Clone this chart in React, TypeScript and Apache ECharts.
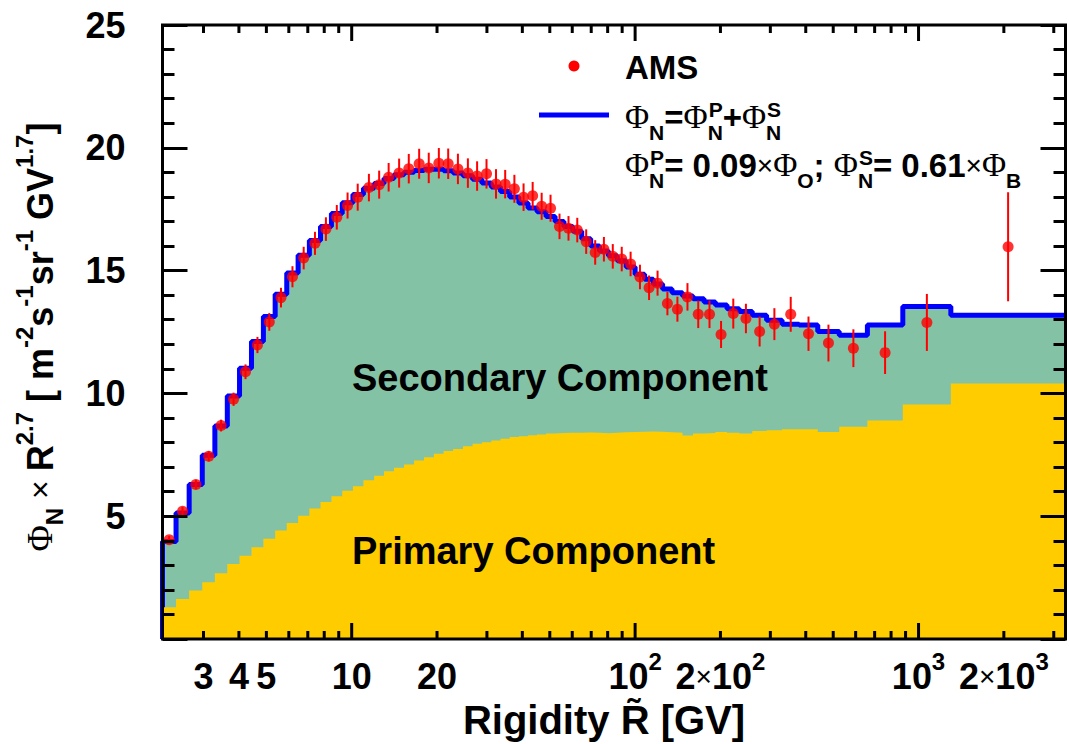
import React, { useEffect, useRef } from 'react';
import * as echarts from 'echarts';

// ---- data ----
const binEdges = [2.15, 2.40, 2.67, 2.97, 3.29, 3.64, 4.02, 4.43, 4.88, 5.37, 5.90, 6.47, 7.09, 7.76, 8.48, 9.26, 10.1, 11.0, 12.0, 13.0, 14.1, 15.3, 16.6, 18.0, 19.5, 21.1, 22.8, 24.7, 26.7, 28.8, 31.1, 33.5, 36.1, 38.9, 41.9, 45.1, 48.5, 52.2, 56.1, 60.3, 64.8, 69.7, 74.9, 80.5, 86.5, 93.0, 100, 108, 116, 125, 135, 147, 160, 175, 192, 211, 233, 259, 291, 330, 379, 441, 525, 660, 880, 1300, 3300];

const amsRigidity = [2.27, 2.53, 2.82, 3.13, 3.46, 3.83, 4.22, 4.65, 5.12, 5.63, 6.18, 6.77, 7.42, 8.11, 8.86, 9.67, 10.5, 11.5, 12.5, 13.5, 14.7, 15.9, 17.3, 18.7, 20.3, 21.9, 23.7, 25.7, 27.7, 29.9, 32.3, 34.8, 37.5, 40.4, 43.5, 46.8, 50.3, 54.1, 58.2, 62.5, 67.2, 72.3, 77.6, 83.4, 89.7, 96.4, 104, 112, 120, 130, 141, 153, 167, 183, 201, 222, 246, 275, 310, 354, 409, 481, 589, 762, 1070, 2070];

const amsFlux = [4.04, 5.2, 6.29, 7.44, 8.69, 9.76, 10.88, 11.97, 12.91, 13.9, 14.75, 15.51, 16.11, 16.69, 17.17, 17.65, 17.99, 18.38, 18.5, 18.8, 18.97, 19.15, 19.35, 19.18, 19.37, 19.35, 19.14, 18.97, 18.85, 18.94, 18.53, 18.52, 18.33, 17.99, 18.05, 17.62, 17.54, 16.8, 16.72, 16.65, 16.18, 15.74, 15.87, 15.58, 15.47, 15.27, 14.74, 14.3, 14.49, 13.66, 13.43, 13.93, 13.22, 13.22, 12.4, 13.25, 13.05, 12.52, 12.82, 13.22, 12.43, 12.05, 11.84, 11.66, 12.89, 15.97];

const amsError = [0.15, 0.17, 0.19, 0.21, 0.24, 0.27, 0.3, 0.33, 0.36, 0.4, 0.43, 0.46, 0.47, 0.48, 0.5, 0.53, 0.55, 0.56, 0.57, 0.58, 0.59, 0.6, 0.61, 0.62, 0.62, 0.62, 0.62, 0.6, 0.6, 0.6, 0.6, 0.58, 0.57, 0.56, 0.56, 0.55, 0.55, 0.52, 0.5, 0.5, 0.5, 0.5, 0.5, 0.5, 0.5, 0.5, 0.5, 0.5, 0.51, 0.48, 0.51, 0.56, 0.56, 0.56, 0.55, 0.61, 0.6, 0.61, 0.65, 0.71, 0.7, 0.75, 0.77, 0.87, 1.16, 2.22];

const totalModel = [3.97, 5.13, 6.29, 7.48, 8.67, 9.89, 11.02, 12.11, 13.13, 14.04, 14.9, 15.62, 16.23, 16.8, 17.32, 17.76, 18.1, 18.35, 18.55, 18.75, 18.9, 19.0, 19.08, 19.13, 19.13, 19.07, 18.97, 18.86, 18.72, 18.57, 18.4, 18.22, 18.0, 17.75, 17.55, 17.4, 17.2, 17.0, 16.8, 16.6, 16.3, 16.0, 15.8, 15.6, 15.4, 15.15, 14.85, 14.65, 14.45, 14.25, 14.1, 13.97, 13.85, 13.72, 13.6, 13.45, 13.33, 13.18, 12.98, 12.82, 12.79, 12.52, 12.37, 12.79, 13.54, 13.18];

const primaryModel = [1.29, 1.63, 1.97, 2.31, 2.68, 3.05, 3.39, 3.74, 4.08, 4.42, 4.72, 5.02, 5.31, 5.58, 5.81, 6.04, 6.22, 6.46, 6.65, 6.83, 6.97, 7.1, 7.27, 7.4, 7.54, 7.65, 7.74, 7.85, 7.95, 8.01, 8.08, 8.15, 8.22, 8.26, 8.3, 8.33, 8.37, 8.39, 8.4, 8.4, 8.41, 8.4, 8.38, 8.4, 8.42, 8.43, 8.44, 8.45, 8.44, 8.42, 8.4, 8.29, 8.37, 8.39, 8.43, 8.4, 8.37, 8.47, 8.5, 8.54, 8.54, 8.43, 8.64, 8.9, 9.55, 10.4];

const xMajorTickValues = [10, 100, 1000];
const xMinorTickValues = [3, 4, 5, 6, 7, 8, 9, 20, 30, 40, 50, 60, 70, 80, 90, 200, 300, 400, 500, 600, 700, 800, 900, 2000, 3000];
const xLabelValues = [3, 4, 5, 10, 20, 100, 200, 1000, 2000];
const xLabelTexts = ['3', '4', '5', '10', '20', '10^2', '2×10^2', '10^3', '2×10^3'];

const X_MIN = 2.15;
const X_MAX = 3300;
const Y_MIN = 0;
const Y_MAX = 25;

// ---- styling ----
const FONT = '"Liberation Sans", Arial, Helvetica, sans-serif';
const SERIF = '"Liberation Serif", "DejaVu Serif", serif';
const GRID = { left: 162.5, top: 25, width: 903, height: 614 };

function stepData(vals: number[]) {
  const d: number[][] = [[binEdges[0], 0]];
  vals.forEach((v, i) => d.push([binEdges[i], v]));
  d.push([binEdges[binEdges.length - 1], vals[vals.length - 1]]);
  return d;
}

function labelToRich(label: string) {
  const [base, exp] = label.split('^');
  let s = '';
  const parts = base.split('×');
  if (parts.length === 2) s += `{b|${parts[0]}}{x|×}{b|${parts[1]}}`;
  else s += `{b|${base}}`;
  if (exp) s += `{sup|${exp}}`;
  return s;
}

const xLabelRich = {
  b: { fontSize: 36, fontWeight: 'bold', fontFamily: FONT, lineHeight: 54, fill: '#000' },
  x: { fontSize: 28, fontWeight: 'normal', fontFamily: FONT, lineHeight: 54, fill: '#000' },
  sup: { fontSize: 24, fontWeight: 'bold', fontFamily: FONT, lineHeight: 54, height: 24, verticalAlign: 'top', fill: '#000' },
};

const yTitleRich = {
  b: { fontSize: 36, fontWeight: 'bold', fontFamily: FONT, lineHeight: 56 },
  phi: { fontSize: 36, fontWeight: 'normal', fontFamily: SERIF, lineHeight: 56 },
  x: { fontSize: 32, fontWeight: 'normal', fontFamily: FONT, lineHeight: 56 },
  sup: { fontSize: 24, fontWeight: 'bold', fontFamily: FONT, lineHeight: 56, height: 24, verticalAlign: 'top' },
  sub: { fontSize: 24, fontWeight: 'bold', fontFamily: FONT, lineHeight: 56, height: 27, verticalAlign: 'bottom' },
};

const legRich = {
  b: { fontSize: 33, fontWeight: 'bold', fontFamily: FONT, lineHeight: 50 },
  phi: { fontSize: 33, fontWeight: 'normal', fontFamily: SERIF, lineHeight: 50 },
  x: { fontSize: 28, fontWeight: 'normal', fontFamily: FONT, lineHeight: 50 },
  sup: { fontSize: 21, fontWeight: 'bold', fontFamily: FONT, lineHeight: 50, height: 34, verticalAlign: 'top' },
  sub: { fontSize: 21, fontWeight: 'bold', fontFamily: FONT, lineHeight: 50, height: 20, verticalAlign: 'bottom' },
  subs: { fontSize: 21, fontWeight: 'bold', fontFamily: FONT, lineHeight: 50, height: 20, verticalAlign: 'bottom', width: 1 },
};

function richText(x: number, y: number, text: string, rich: any, extra: any = {}) {
  return {
    type: 'text',
    x,
    y,
    z: 100,
    silent: true,
    ...extra,
    style: {
      text,
      rich,
      fill: '#000',
      fontSize: 33,
      fontWeight: 'bold',
      fontFamily: FONT,
      align: extra.align || 'left',
      textAlign: extra.align || 'left',
      verticalAlign: 'middle',
      textVerticalAlign: 'middle',
    },
  };
}

function plainText(x: number, y: number, text: string, size: number, align = 'left') {
  return {
    type: 'text',
    x,
    y,
    z: 100,
    silent: true,
    style: {
      text,
      fill: '#000',
      fontSize: size,
      fontWeight: 'bold',
      fontFamily: FONT,
      align,
      textAlign: align,
      verticalAlign: 'middle',
      textVerticalAlign: 'middle',
    },
  };
}

export default function App() {
  const ref = useRef<HTMLDivElement>(null);

  useEffect(() => {
    if (!ref.current) return;
    const chart = echarts.init(ref.current, null, { renderer: 'svg' });

    const yAxisCommon = {
      type: 'value',
      min: Y_MIN,
      max: Y_MAX,
      interval: 5,
      z: 10,
      axisLine: { show: false },
      splitLine: { show: false },
      axisTick: { show: true, inside: true, length: 25, lineStyle: { color: '#000', width: 3 } },
      minorTick: { show: true, splitNumber: 5, length: 12, lineStyle: { color: '#000', width: 3 } },
    };

    const option: any = {
      animation: false,
      backgroundColor: '#fff',
      grid: { ...GRID, outerBoundsMode: 'none', containLabel: false },
      xAxis: {
        type: 'log',
        logBase: 10,
        min: X_MIN,
        max: X_MAX,
        axisLine: { show: false },
        axisTick: { show: false },
        axisLabel: { show: false },
        splitLine: { show: false },
        minorTick: { show: false },
      },
      yAxis: [
        {
          ...yAxisCommon,
          position: 'left',
          axisLabel: {
            show: true,
            margin: 37,
            color: '#000',
            fontSize: 36,
            fontWeight: 'bold',
            fontFamily: FONT,
            formatter: (v: number) => (v === 0 ? '' : String(v)),
          },
        },
        {
          ...yAxisCommon,
          position: 'right',
          axisLabel: { show: false },
        },
      ],
      series: [
        {
          name: 'total-fill',
          type: 'line',
          step: 'end',
          data: stepData(totalModel),
          showSymbol: false,
          symbol: 'none',
          lineStyle: { width: 0, opacity: 0 },
          areaStyle: { color: '#84c2a6', opacity: 1 },
          z: 1,
          silent: true,
        },
        {
          name: 'total-line',
          type: 'line',
          step: 'end',
          data: stepData(totalModel),
          showSymbol: false,
          symbol: 'none',
          lineStyle: { width: 5, color: '#0000ff' },
          z: 2,
          silent: true,
        },
        {
          name: 'primary',
          type: 'line',
          step: 'end',
          data: stepData(primaryModel),
          showSymbol: false,
          symbol: 'none',
          lineStyle: { width: 0, opacity: 0 },
          areaStyle: { color: '#ffcc00', opacity: 1 },
          z: 3,
          silent: true,
        },
        {
          name: 'errors',
          type: 'custom',
          data: amsRigidity.map((r, i) => [r, amsFlux[i], amsError[i]]),
          encode: { x: 0, y: 1 },
          z: 4,
          silent: true,
          renderItem: (params: any, api: any) => {
            const x = api.value(0);
            const y = api.value(1);
            const e = api.value(2);
            const p1 = api.coord([x, y - e]);
            const p2 = api.coord([x, y + e]);
            return {
              type: 'line',
              shape: { x1: p1[0], y1: p1[1], x2: p2[0], y2: p2[1] },
              style: { stroke: '#ff0000', lineWidth: 2 },
            };
          },
        },
        {
          name: 'AMS',
          type: 'scatter',
          data: amsRigidity.map((r, i) => [r, amsFlux[i]]),
          symbol: 'circle',
          symbolSize: 11,
          itemStyle: { color: '#ff0000' },
          z: 5,
          silent: true,
        },
        {
          name: 'xticks',
          type: 'custom',
          data: [
            ...xMajorTickValues.map((v) => [v, 1]),
            ...xMinorTickValues.map((v) => [v, 0]),
          ],
          encode: { x: 0, y: 1 },
          z: 6,
          silent: true,
          renderItem: (params: any, api: any) => {
            const v = api.value(0);
            const major = api.value(1) === 1;
            const len = major ? 16 : 8;
            const b = api.coord([v, Y_MIN]);
            const t = api.coord([v, Y_MAX]);
            return {
              type: 'group',
              children: [
                { type: 'line', shape: { x1: b[0], y1: b[1], x2: b[0], y2: b[1] - len }, style: { stroke: '#000', lineWidth: 3 } },
                { type: 'line', shape: { x1: t[0], y1: t[1], x2: t[0], y2: t[1] + len }, style: { stroke: '#000', lineWidth: 3 } },
              ],
            };
          },
        },
        {
          name: 'xlabels',
          type: 'custom',
          data: xLabelValues.map((v, i) => [v, i]),
          encode: { x: 0, y: 1 },
          z: 6,
          silent: true,
          renderItem: (params: any, api: any) => {
            const v = api.value(0);
            const p = api.coord([v, Y_MIN]);
            return {
              type: 'text',
              x: p[0],
              y: p[1] + 37,
              style: {
                text: labelToRich(xLabelTexts[params.dataIndex]),
                rich: xLabelRich,
                fill: '#000',
                fontSize: 36,
                fontWeight: 'bold',
                fontFamily: FONT,
                align: 'center',
                textAlign: 'center',
                verticalAlign: 'middle',
                textVerticalAlign: 'middle',
              },
            };
          },
        },
      ],
      graphic: [
        {
          type: 'rect',
          z: 100,
          silent: true,
          shape: { x: GRID.left, y: GRID.top, width: GRID.width, height: GRID.height },
          style: { fill: 'rgba(0,0,0,0)', stroke: '#000', lineWidth: 3 },
        },
        // y-axis title
        richText(
          40,
          337,
          '{phi|Φ}{sub|N}{x| × }{b|R}{sup|2.7}{b| [ m}{sup|-2}{b|s}{sup|-1}{b|sr}{sup|-1}{b| GV}{sup|1.7}{b|]}',
          yTitleRich,
          { rotation: Math.PI / 2, align: 'center' }
        ),
        // x-axis title
        plainText(604, 720, 'Rigidity R\u0303 [GV]', 40, 'center'),
        // component labels
        plainText(352, 378, 'Secondary Component', 38),
        plainText(352, 551, 'Primary Component', 38),
        // legend
        { type: 'circle', z: 100, silent: true, shape: { cx: 574, cy: 66, r: 5.5 }, style: { fill: '#ff0000' } },
        plainText(625, 67, 'AMS', 33),
        { type: 'line', z: 100, silent: true, shape: { x1: 539, y1: 115, x2: 609, y2: 115 }, style: { stroke: '#0000ff', lineWidth: 5 } },
        richText(625, 117, '{phi|Φ}{sub|N}{b|=}{phi|Φ}{subs|N}{sup|P}{b|+}{phi|Φ}{subs|N}{sup|S}', legRich),
        richText(
          625,
          165,
          '{phi|Φ}{subs|N}{sup|P}{b|= 0.09}{x|×}{phi|Φ}{sub|O}{b|; }{phi|Φ}{subs|N}{sup|S}{b|= 0.61}{x|×}{phi|Φ}{sub|B}',
          legRich
        ),
      ],
    };

    chart.setOption(option);
    return () => chart.dispose();
  }, []);

  return (
    <div
      ref={ref}
      style={{ position: 'fixed', left: 0, top: 0, width: 1069, height: 744, background: '#fff' }}
    />
  );
}
